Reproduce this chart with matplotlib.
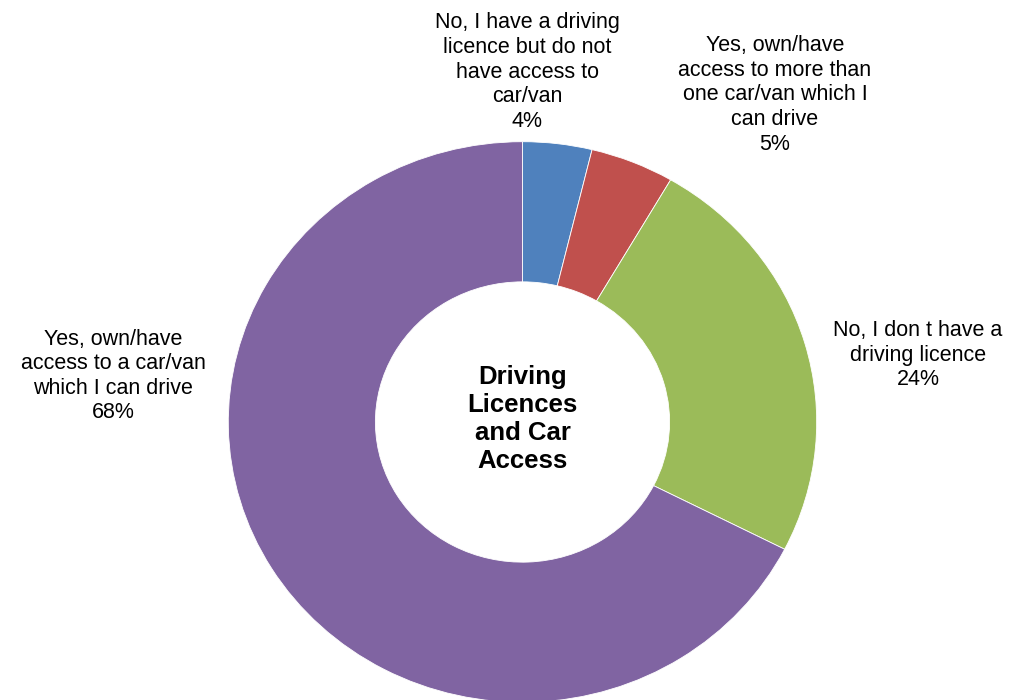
import numpy as np
import matplotlib.pyplot as plt

plt.rcParams['font.family'] = ['Liberation Sans', 'DejaVu Sans']

# slices, clockwise from 12 o'clock
labels = ['No, I have a driving\nlicence but do not\nhave access to\ncar/van',
          'Yes, own/have\naccess to more than\none car/van which I\ncan drive',
          'No, I don t have a\ndriving licence',
          'Yes, own/have\naccess to a car/van\nwhich I can drive']
values = [3.8, 4.6, 24.1, 67.5]
colors = ['#4F81BD', '#C0504D', '#9BBB59', '#8064A2']

# label anchor points (pixels in the 1023x700 picture)
label_x = [527, 775, 918, 113]
label_y = [72, 95, 355, 376]

W, H = 1023, 700
cx, cy = 522.5, 422.0   # donut centre, px
rx, ry = 294.2, 280.3   # outer radii, px (slightly wider than tall)

fig = plt.figure(figsize=(W / 100, H / 100), dpi=100)
ax = fig.add_axes([0, 0, 1, 1])

ax.pie(values, colors=colors, startangle=90, counterclock=False, radius=1,
       wedgeprops=dict(width=0.5, edgecolor='white', linewidth=0.6))

ax.set_aspect('auto')
ax.set_xlim(-cx / rx, (W - cx) / rx)
ax.set_ylim(-(H - cy) / ry, cy / ry)
ax.axis('off')

for lab, v, x, y in zip(labels, values, label_x, label_y):
    fig.text(x / W, 1 - y / H, f'{lab}\n{v:.0f}%', ha='center', va='center',
             fontsize=15.5, linespacing=1.22, color='#000000')

ax.text(0, 0.01, 'Driving\nLicences\nand Car\nAccess', ha='center', va='center',
        fontsize=18.5, fontweight='bold', linespacing=1.2)

fig.savefig('out.png', dpi=100)
